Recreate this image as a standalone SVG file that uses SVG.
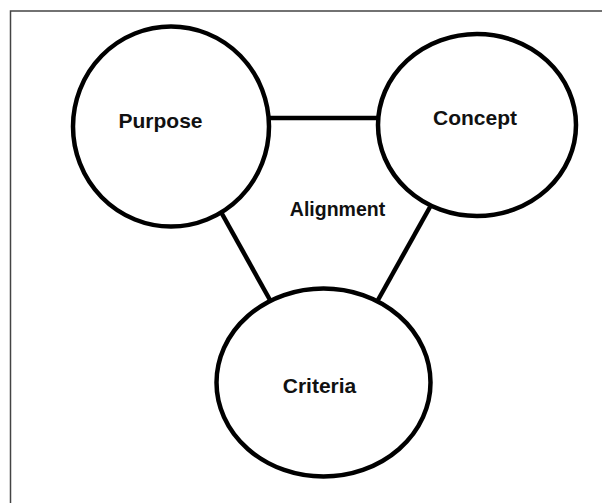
<svg xmlns="http://www.w3.org/2000/svg" width="602" height="503" viewBox="0 0 602 503">
<style>
.node{fill:#fff;stroke:#000;stroke-width:4.5}
.edge{stroke:#000;stroke-width:4.5;fill:none}
.lbl{font-family:"Liberation Sans",Arial,sans-serif;font-weight:bold;fill:#111;text-anchor:middle}
</style>
<rect width="602" height="503" fill="#fff"/>
<path d="M10.5 503 V11 H602" fill="none" stroke="#444" stroke-width="1.5"/>
<g id="connectors">
<line class="edge" x1="270" y1="118" x2="377" y2="118"/>
<line class="edge" x1="221" y1="212" x2="270" y2="300"/>
<line class="edge" x1="430" y1="207" x2="378" y2="300"/>
</g>
<g id="purpose">
<ellipse class="node" cx="171" cy="126.5" rx="98" ry="100"/>
<text class="lbl" x="160.5" y="128" font-size="21">Purpose</text>
</g>
<g id="concept">
<ellipse class="node" cx="477" cy="125" rx="99" ry="91"/>
<text class="lbl" x="475" y="125" font-size="21">Concept</text>
</g>
<g id="criteria">
<ellipse class="node" cx="323.5" cy="382.5" rx="107" ry="94"/>
<text class="lbl" x="319.5" y="393" font-size="21">Criteria</text>
</g>
<g id="alignment">
<text class="lbl" x="337.5" y="216" font-size="19.5">Alignment</text>
</g>
</svg>
